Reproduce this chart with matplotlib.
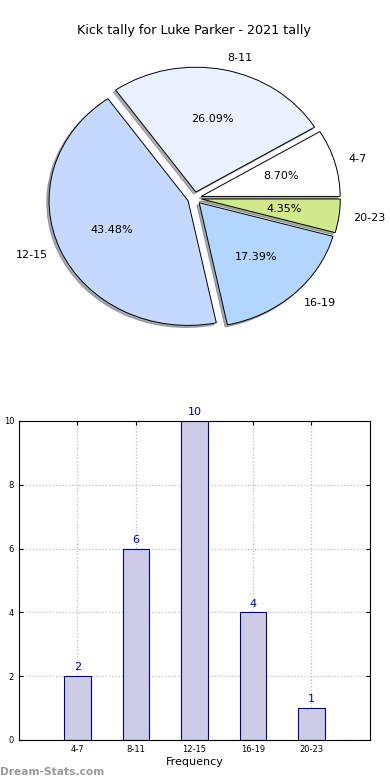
import numpy as np
import matplotlib.pyplot as plt

categories = ['4-7', '8-11', '12-15', '16-19', '20-23']
counts = [2, 6, 10, 4, 1]
pie_colors = ['#ffffff', '#eaf1ff', '#c5d9ff', '#b3d6ff', '#d0ea8a']

fig = plt.figure(figsize=(3.9, 7.8), dpi=100)

# pie (stretched, old-style non-equal aspect)
ax1 = fig.add_axes([0.053, 0.546, 0.891, 0.40])
wedges, texts, autotexts = ax1.pie(
    counts, labels=categories, colors=pie_colors, explode=[0.05] * len(counts),
    autopct='%1.2f%%', shadow={'ox': -0.012, 'oy': -0.012, 'shade': 0.6},
    startangle=0,
    wedgeprops={'edgecolor': 'black', 'linewidth': 0.7},
    textprops={'fontsize': 8})
ax1.set_aspect('auto')
ax1.set_xlim(-1.25, 1.25)
ax1.set_ylim(-1.25, 1.25)
ax1.set_title('Kick tally for Luke Parker - 2021 tally', fontsize=9.2)

# bars
ax2 = fig.add_axes([0.0487, 0.0513, 0.9, 0.409])
x = np.arange(len(categories))
ax2.bar(x, counts, width=0.45, color='#cccce6', edgecolor='#000099', linewidth=0.8, zorder=2)
for xi, c in zip(x, counts):
    ax2.text(xi, c + 0.12, str(c), ha='center', va='bottom', fontsize=8, color='#000099')
ax2.set_xlim(-1, 5)
ax2.set_ylim(0, 10)
ax2.set_xticks(x)
ax2.set_xticklabels(categories)
ax2.set_yticks(range(0, 11, 2))
ax2.tick_params(labelsize=6, direction='in', length=3, top=True, right=True)
ax2.grid(True, linestyle=':', color='#bbbbbb', linewidth=0.9, zorder=0)
ax2.set_axisbelow(True)
ax2.set_xlabel('Frequency', fontsize=8, labelpad=2)
ax2.set_ylabel('Kick Tally', fontsize=8)
ax2.yaxis.set_label_coords(-0.06, 0.5)

fig.text(0.0, 0.006, 'Dream-Stats.com', fontsize=7.7, color='#999999', fontweight='semibold')

fig.savefig('out.png', dpi=100)
